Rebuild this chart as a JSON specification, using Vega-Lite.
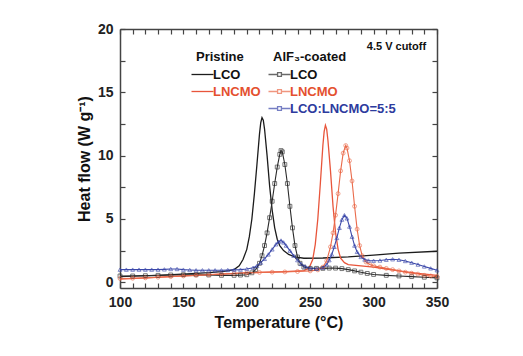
{
  "$schema": "https://vega.github.io/schema/vega-lite/v6.json",
  "width": 317,
  "height": 259,
  "autosize": "none",
  "padding": {"left": 120, "top": 29, "right": 86, "bottom": 68},
  "background": "white",
  "config": {
    "view": {"stroke": null},
    "font": "Liberation Sans",
    "axis": {
      "grid": false,
      "labelFont": "Liberation Sans",
      "labelFontWeight": "bold",
      "labelFontSize": 14,
      "labelColor": "#222222",
      "labelFlush": false,
      "titleFont": "Liberation Sans",
      "titleFontWeight": "bold",
      "titleFontSize": 16,
      "titleColor": "#111111",
      "domainColor": "#444444",
      "domainWidth": 1.5,
      "tickColor": "#444444",
      "tickWidth": 1.2,
      "tickSize": -5,
      "labelPadding": 12,
      "titlePadding": 5
    },
    "legend": {
      "titleFont": "Liberation Sans",
      "titleFontSize": 13,
      "titleFontWeight": "bold",
      "titleColor": "#111111",
      "labelFont": "Liberation Sans",
      "labelFontSize": 13,
      "labelFontWeight": "bold",
      "symbolSize": 121,
      "symbolStrokeWidth": 1.3,
      "rowPadding": 3,
      "padding": 0,
      "titlePadding": 4,
      "labelOffset": 4
    }
  },
  "datasets": {
    "pristine": [
      {"s":"LCO","t":100,"h":0.45},{"s":"LCO","t":115,"h":0.5},{"s":"LCO","t":130,"h":0.55},{"s":"LCO","t":145,"h":0.62},{"s":"LCO","t":160,"h":0.7},{"s":"LCO","t":170,"h":0.76},{"s":"LCO","t":180,"h":0.85},{"s":"LCO","t":186,"h":0.93},{"s":"LCO","t":190,"h":1.0},{"s":"LCO","t":194,"h":1.3},{"s":"LCO","t":197,"h":1.8},{"s":"LCO","t":200,"h":2.6},{"s":"LCO","t":202,"h":3.6},{"s":"LCO","t":204,"h":5.0},{"s":"LCO","t":206,"h":7.0},{"s":"LCO","t":208,"h":9.3},{"s":"LCO","t":210,"h":11.7},{"s":"LCO","t":211,"h":12.6},{"s":"LCO","t":212,"h":13.0},{"s":"LCO","t":213,"h":12.8},{"s":"LCO","t":214,"h":12.1},{"s":"LCO","t":216,"h":10.0},{"s":"LCO","t":218,"h":7.6},{"s":"LCO","t":220,"h":5.7},{"s":"LCO","t":222,"h":4.3},{"s":"LCO","t":224,"h":3.4},{"s":"LCO","t":226,"h":2.9},{"s":"LCO","t":229,"h":2.5},{"s":"LCO","t":233,"h":2.2},{"s":"LCO","t":238,"h":2.0},{"s":"LCO","t":245,"h":1.9},{"s":"LCO","t":260,"h":1.92},{"s":"LCO","t":280,"h":2.0},{"s":"LCO","t":300,"h":2.15},{"s":"LCO","t":320,"h":2.3},{"s":"LCO","t":350,"h":2.45},
      {"s":"LNCMO","t":100,"h":0.25},{"s":"LNCMO","t":125,"h":0.37},{"s":"LNCMO","t":150,"h":0.5},{"s":"LNCMO","t":175,"h":0.62},{"s":"LNCMO","t":200,"h":0.75},{"s":"LNCMO","t":230,"h":0.85},{"s":"LNCMO","t":245,"h":0.92},{"s":"LNCMO","t":249,"h":1.1},{"s":"LNCMO","t":252,"h":1.8},{"s":"LNCMO","t":254,"h":3.0},{"s":"LNCMO","t":256,"h":5.0},{"s":"LNCMO","t":258,"h":7.8},{"s":"LNCMO","t":260,"h":10.8},{"s":"LNCMO","t":261,"h":11.9},{"s":"LNCMO","t":262,"h":12.4},{"s":"LNCMO","t":263,"h":12.1},{"s":"LNCMO","t":264,"h":11.2},{"s":"LNCMO","t":266,"h":8.8},{"s":"LNCMO","t":268,"h":6.0},{"s":"LNCMO","t":270,"h":3.9},{"s":"LNCMO","t":272,"h":2.6},{"s":"LNCMO","t":274,"h":1.9},{"s":"LNCMO","t":277,"h":1.55},{"s":"LNCMO","t":280,"h":1.4},{"s":"LNCMO","t":290,"h":1.3},{"s":"LNCMO","t":300,"h":1.2},{"s":"LNCMO","t":310,"h":1.05},{"s":"LNCMO","t":320,"h":0.9},{"s":"LNCMO","t":335,"h":0.7},{"s":"LNCMO","t":350,"h":0.55}
    ],
    "coated": [
      {"s":"LCO","t":100,"h":0.5},{"s":"LCO","t":110,"h":0.5},{"s":"LCO","t":120,"h":0.52},{"s":"LCO","t":130,"h":0.55},{"s":"LCO","t":140,"h":0.58},{"s":"LCO","t":150,"h":0.6},{"s":"LCO","t":160,"h":0.6},{"s":"LCO","t":170,"h":0.58},{"s":"LCO","t":180,"h":0.55},{"s":"LCO","t":190,"h":0.55},{"s":"LCO","t":195,"h":0.57},{"s":"LCO","t":200,"h":0.6},{"s":"LCO","t":204,"h":0.75},{"s":"LCO","t":207,"h":1.0},{"s":"LCO","t":210,"h":1.5},{"s":"LCO","t":212,"h":2.1},{"s":"LCO","t":214,"h":2.9},{"s":"LCO","t":216,"h":3.9},{"s":"LCO","t":218,"h":5.1},{"s":"LCO","t":220,"h":6.4},{"s":"LCO","t":222,"h":7.8},{"s":"LCO","t":224,"h":9.1},{"s":"LCO","t":226,"h":10.1},{"s":"LCO","t":227,"h":10.4},{"s":"LCO","t":228,"h":10.3},{"s":"LCO","t":230,"h":9.3},{"s":"LCO","t":232,"h":7.8},{"s":"LCO","t":234,"h":6.0},{"s":"LCO","t":236,"h":4.3},{"s":"LCO","t":238,"h":2.9},{"s":"LCO","t":240,"h":2.0},{"s":"LCO","t":242,"h":1.5},{"s":"LCO","t":245,"h":1.2},{"s":"LCO","t":250,"h":1.1},{"s":"LCO","t":255,"h":1.1},{"s":"LCO","t":260,"h":1.1},{"s":"LCO","t":265,"h":1.12},{"s":"LCO","t":270,"h":1.12},{"s":"LCO","t":275,"h":1.08},{"s":"LCO","t":280,"h":1.0},{"s":"LCO","t":285,"h":0.9},{"s":"LCO","t":290,"h":0.8},{"s":"LCO","t":295,"h":0.7},{"s":"LCO","t":300,"h":0.62},{"s":"LCO","t":310,"h":0.55},{"s":"LCO","t":320,"h":0.5},{"s":"LCO","t":330,"h":0.45},{"s":"LCO","t":340,"h":0.4},{"s":"LCO","t":350,"h":0.35},
      {"s":"LNCMO","t":100,"h":0.3},{"s":"LNCMO","t":110,"h":0.32},{"s":"LNCMO","t":120,"h":0.35},{"s":"LNCMO","t":130,"h":0.4},{"s":"LNCMO","t":140,"h":0.45},{"s":"LNCMO","t":150,"h":0.5},{"s":"LNCMO","t":160,"h":0.55},{"s":"LNCMO","t":170,"h":0.6},{"s":"LNCMO","t":180,"h":0.65},{"s":"LNCMO","t":190,"h":0.7},{"s":"LNCMO","t":200,"h":0.75},{"s":"LNCMO","t":210,"h":0.78},{"s":"LNCMO","t":220,"h":0.8},{"s":"LNCMO","t":230,"h":0.82},{"s":"LNCMO","t":240,"h":0.85},{"s":"LNCMO","t":250,"h":0.9},{"s":"LNCMO","t":256,"h":0.98},{"s":"LNCMO","t":260,"h":1.2},{"s":"LNCMO","t":263,"h":1.7},{"s":"LNCMO","t":266,"h":2.8},{"s":"LNCMO","t":268,"h":3.9},{"s":"LNCMO","t":270,"h":5.3},{"s":"LNCMO","t":272,"h":7.0},{"s":"LNCMO","t":274,"h":8.8},{"s":"LNCMO","t":276,"h":10.2},{"s":"LNCMO","t":278,"h":10.8},{"s":"LNCMO","t":279,"h":10.6},{"s":"LNCMO","t":281,"h":9.6},{"s":"LNCMO","t":283,"h":8.0},{"s":"LNCMO","t":285,"h":6.0},{"s":"LNCMO","t":287,"h":4.2},{"s":"LNCMO","t":289,"h":2.9},{"s":"LNCMO","t":291,"h":2.1},{"s":"LNCMO","t":294,"h":1.6},{"s":"LNCMO","t":297,"h":1.4},{"s":"LNCMO","t":300,"h":1.3},{"s":"LNCMO","t":305,"h":1.2},{"s":"LNCMO","t":310,"h":1.1},{"s":"LNCMO","t":315,"h":1.0},{"s":"LNCMO","t":320,"h":0.9},{"s":"LNCMO","t":325,"h":0.8},{"s":"LNCMO","t":330,"h":0.72},{"s":"LNCMO","t":335,"h":0.65},{"s":"LNCMO","t":340,"h":0.55},{"s":"LNCMO","t":345,"h":0.5},{"s":"LNCMO","t":350,"h":0.45},
      {"s":"LCO:LNCMO=5:5","t":100,"h":1.0},{"s":"LCO:LNCMO=5:5","t":105,"h":1.0},{"s":"LCO:LNCMO=5:5","t":110,"h":1.0},{"s":"LCO:LNCMO=5:5","t":115,"h":1.0},{"s":"LCO:LNCMO=5:5","t":120,"h":1.0},{"s":"LCO:LNCMO=5:5","t":125,"h":1.0},{"s":"LCO:LNCMO=5:5","t":130,"h":1.0},{"s":"LCO:LNCMO=5:5","t":135,"h":1.02},{"s":"LCO:LNCMO=5:5","t":140,"h":1.05},{"s":"LCO:LNCMO=5:5","t":145,"h":1.05},{"s":"LCO:LNCMO=5:5","t":150,"h":1.0},{"s":"LCO:LNCMO=5:5","t":155,"h":0.97},{"s":"LCO:LNCMO=5:5","t":160,"h":0.95},{"s":"LCO:LNCMO=5:5","t":165,"h":0.95},{"s":"LCO:LNCMO=5:5","t":170,"h":0.95},{"s":"LCO:LNCMO=5:5","t":175,"h":0.95},{"s":"LCO:LNCMO=5:5","t":180,"h":0.95},{"s":"LCO:LNCMO=5:5","t":185,"h":0.97},{"s":"LCO:LNCMO=5:5","t":190,"h":0.98},{"s":"LCO:LNCMO=5:5","t":195,"h":1.0},{"s":"LCO:LNCMO=5:5","t":200,"h":1.05},{"s":"LCO:LNCMO=5:5","t":205,"h":1.15},{"s":"LCO:LNCMO=5:5","t":208,"h":1.3},{"s":"LCO:LNCMO=5:5","t":211,"h":1.55},{"s":"LCO:LNCMO=5:5","t":214,"h":1.85},{"s":"LCO:LNCMO=5:5","t":217,"h":2.2},{"s":"LCO:LNCMO=5:5","t":220,"h":2.6},{"s":"LCO:LNCMO=5:5","t":223,"h":3.0},{"s":"LCO:LNCMO=5:5","t":225,"h":3.2},{"s":"LCO:LNCMO=5:5","t":227,"h":3.3},{"s":"LCO:LNCMO=5:5","t":229,"h":3.15},{"s":"LCO:LNCMO=5:5","t":231,"h":2.9},{"s":"LCO:LNCMO=5:5","t":234,"h":2.5},{"s":"LCO:LNCMO=5:5","t":237,"h":2.1},{"s":"LCO:LNCMO=5:5","t":240,"h":1.75},{"s":"LCO:LNCMO=5:5","t":243,"h":1.45},{"s":"LCO:LNCMO=5:5","t":246,"h":1.25},{"s":"LCO:LNCMO=5:5","t":250,"h":1.12},{"s":"LCO:LNCMO=5:5","t":255,"h":1.08},{"s":"LCO:LNCMO=5:5","t":260,"h":1.15},{"s":"LCO:LNCMO=5:5","t":263,"h":1.4},{"s":"LCO:LNCMO=5:5","t":265,"h":1.75},{"s":"LCO:LNCMO=5:5","t":267,"h":2.2},{"s":"LCO:LNCMO=5:5","t":269,"h":2.8},{"s":"LCO:LNCMO=5:5","t":271,"h":3.5},{"s":"LCO:LNCMO=5:5","t":273,"h":4.3},{"s":"LCO:LNCMO=5:5","t":275,"h":4.95},{"s":"LCO:LNCMO=5:5","t":277,"h":5.3},{"s":"LCO:LNCMO=5:5","t":279,"h":5.05},{"s":"LCO:LNCMO=5:5","t":281,"h":4.4},{"s":"LCO:LNCMO=5:5","t":283,"h":3.6},{"s":"LCO:LNCMO=5:5","t":285,"h":2.9},{"s":"LCO:LNCMO=5:5","t":287,"h":2.4},{"s":"LCO:LNCMO=5:5","t":290,"h":2.0},{"s":"LCO:LNCMO=5:5","t":293,"h":1.8},{"s":"LCO:LNCMO=5:5","t":296,"h":1.72},{"s":"LCO:LNCMO=5:5","t":300,"h":1.7},{"s":"LCO:LNCMO=5:5","t":305,"h":1.72},{"s":"LCO:LNCMO=5:5","t":310,"h":1.78},{"s":"LCO:LNCMO=5:5","t":315,"h":1.82},{"s":"LCO:LNCMO=5:5","t":320,"h":1.78},{"s":"LCO:LNCMO=5:5","t":325,"h":1.68},{"s":"LCO:LNCMO=5:5","t":330,"h":1.55},{"s":"LCO:LNCMO=5:5","t":335,"h":1.4},{"s":"LCO:LNCMO=5:5","t":340,"h":1.25},{"s":"LCO:LNCMO=5:5","t":345,"h":1.1},{"s":"LCO:LNCMO=5:5","t":350,"h":0.95}
    ]
  },
  "layer": [
    {
      "data": {"name": "pristine"},
      "mark": {"type": "line", "strokeWidth": 1.3},
      "encoding": {
        "x": {"field": "t", "type": "quantitative",
          "scale": {"domain": [100, 350], "nice": false, "zero": false},
          "axis": {"orient": "bottom", "values": [100,110,120,130,140,150,160,170,180,190,200,210,220,230,240,250,260,270,280,290,300,310,320,330,340,350],
            "labelExpr": "datum.value % 50 == 0 ? datum.label : ''", "title": "Temperature (°C)"}},
        "y": {"field": "h", "type": "quantitative",
          "scale": {"domain": [-0.45, 20], "nice": false, "zero": false},
          "axis": {"orient": "left", "values": [0,2.5,5,7.5,10,12.5,15,17.5,20],
            "labelExpr": "datum.value % 5 == 0 ? datum.label : ''", "title": "Heat flow (W g⁻¹)"}},
        "color": {"field": "s", "type": "nominal",
          "scale": {"domain": ["LCO", "LNCMO"], "range": ["#1c1c1c", "#e8553b"]},
          "legend": {"title": "Pristine", "orient": "none", "legendX": 76, "legendY": 22,
            "symbolType": "M-2,0H2",
            "labelColor": {"expr": "datum.label == 'LNCMO' ? '#e4502f' : '#111111'"}}}
      }
    },
    {
      "data": {"name": "coated"},
      "encoding": {
        "x": {"field": "t", "type": "quantitative",
          "scale": {"domain": [100, 350], "nice": false, "zero": false},
          "axis": {"orient": "top", "values": [100,110,120,130,140,150,160,170,180,190,200,210,220,230,240,250,260,270,280,290,300,310,320,330,340,350], "labels": false, "title": null}},
        "y": {"field": "h", "type": "quantitative",
          "scale": {"domain": [-0.45, 20], "nice": false, "zero": false},
          "axis": {"orient": "right", "values": [0,2.5,5,7.5,10,12.5,15,17.5,20], "labels": false, "title": null}},
        "color": {"field": "s", "type": "nominal",
          "scale": {"domain": ["LCO", "LNCMO", "LCO:LNCMO=5:5"], "range": ["#2a2a2a", "#ea6a4a", "#3b48aa"]},
          "legend": {"title": "AlF₃-coated", "orient": "none", "legendX": 153, "legendY": 22,
            "symbolType": "M-2,0H-0.4M0.4,0H2M-0.35,-0.35H0.35V0.35H-0.35Z",
            "symbolFillColor": "white",
            "labelColor": {"expr": "datum.label == 'LNCMO' ? '#e4502f' : datum.label == 'LCO' ? '#111111' : '#2d3b9e'"}}}
      },
      "layer": [
        {"mark": {"type": "line"},
          "encoding": {"strokeWidth": {"field": "s", "type": "nominal",
            "scale": {"domain": ["LCO", "LNCMO", "LCO:LNCMO=5:5"], "range": [1.1, 1.1, 3.0]}, "legend": null}}},
        {"mark": {"type": "point", "filled": false, "size": 15, "strokeWidth": 0.9},
          "encoding": {"shape": {"field": "s", "type": "nominal",
            "scale": {"domain": ["LCO", "LNCMO", "LCO:LNCMO=5:5"], "range": ["square", "circle", "triangle-up"]}, "legend": null}}}
      ]
    },
    {
      "data": {"values": [{"label": "4.5 V cutoff"}]},
      "mark": {"type": "text", "font": "Liberation Sans", "fontWeight": "bold", "fontSize": 11, "color": "#111111"},
      "encoding": {
        "x": {"datum": 318, "type": "quantitative", "scale": {"domain": [100, 350], "nice": false, "zero": false}, "axis": null},
        "y": {"datum": 18.6, "type": "quantitative", "scale": {"domain": [-0.45, 20], "nice": false, "zero": false}, "axis": null},
        "text": {"field": "label"}
      }
    }
  ],
  "resolve": {"scale": {"color": "independent"}, "axis": {"x": "independent", "y": "independent"}}
}
